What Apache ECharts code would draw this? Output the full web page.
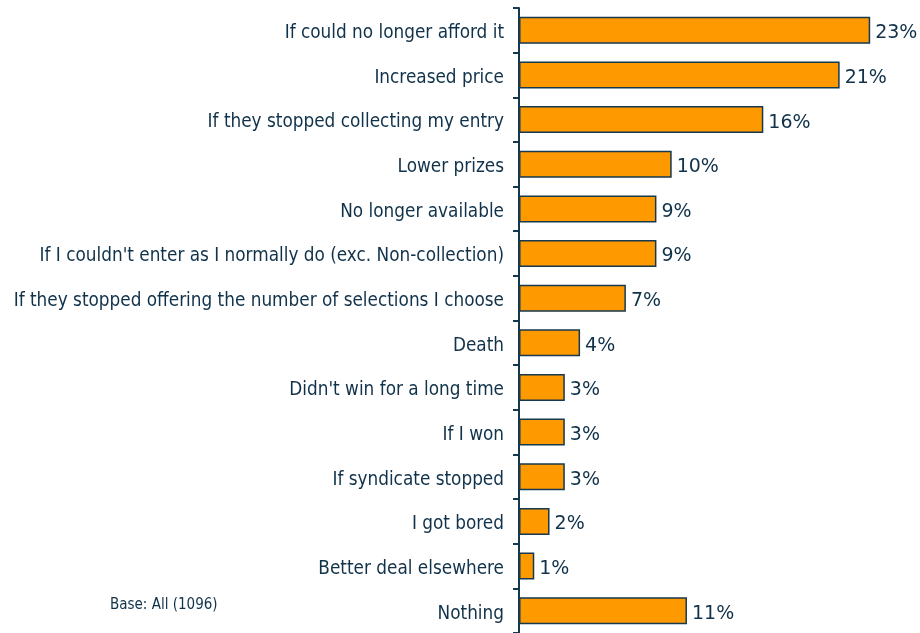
<!DOCTYPE html>
<html>
<head>
<meta charset="utf-8">
<script src="https://cdn.jsdelivr.net/npm/echarts@6/dist/echarts.min.js"></script>
<style>
  html, body { margin: 0; padding: 0; background: #ffffff; }
  #chart { width: 920px; height: 633px; }
</style>
</head>
<body>
<div id="chart"></div>
<script>
// Reasons for stopping play, top to bottom
const categories = [
  "If could no longer afford it",
  "Increased price",
  "If they stopped collecting my entry",
  "Lower prizes",
  "No longer available",
  "If I couldn't enter as I normally do (exc. Non-collection)",
  "If they stopped offering the number of selections I choose",
  "Death",
  "Didn't win for a long time",
  "If I won",
  "If syndicate stopped",
  "I got bored",
  "Better deal elsewhere",
  "Nothing"
];
const values = [23, 21, 16, 10, 9, 9, 7, 4, 3, 3, 3, 2, 1, 11];
const baseNote = "Base: All (1096)";

const textColor = "#10324a";
const lineColor = "#15394f";
const condensed = "'DejaVu Sans Condensed', 'DejaVu Sans', Verdana, sans-serif";
const regular = "'DejaVu Sans', Verdana, sans-serif";

const chart = echarts.init(document.getElementById("chart"));
chart.setOption({
  animation: false,
  backgroundColor: "#ffffff",
  grid: { left: 519, right: 4, top: 8, height: 628, containLabel: false },
  xAxis: {
    type: "value",
    min: 0,
    max: 26,
    show: false
  },
  yAxis: {
    type: "category",
    data: categories,
    inverse: true,
    axisLine: { show: true, lineStyle: { color: lineColor, width: 2 } },
    axisTick: { show: true, length: 6, lineStyle: { color: lineColor, width: 2 } },
    axisLabel: {
      color: textColor,
      fontFamily: condensed,
      fontSize: 18.8,
      margin: 15,
      verticalAlign: "top",
      lineHeight: 6
    }
  },
  graphic: [{
    type: "text",
    left: 110,
    top: 598,
    style: {
      text: baseNote,
      fill: textColor,
      font: "15px 'DejaVu Sans Condensed', 'DejaVu Sans', sans-serif"
    }
  }],
  series: [{
    type: "bar",
    data: values,
    barWidth: 27,
    itemStyle: { color: "#ff9900", borderColor: lineColor, borderWidth: 1.5 },
    label: {
      show: true,
      position: "right",
      distance: 5,
      formatter: "{c}%",
      color: textColor,
      fontFamily: regular,
      fontSize: 19,
      verticalAlign: "top",
      lineHeight: 6
    }
  }]
});
</script>
</body>
</html>
